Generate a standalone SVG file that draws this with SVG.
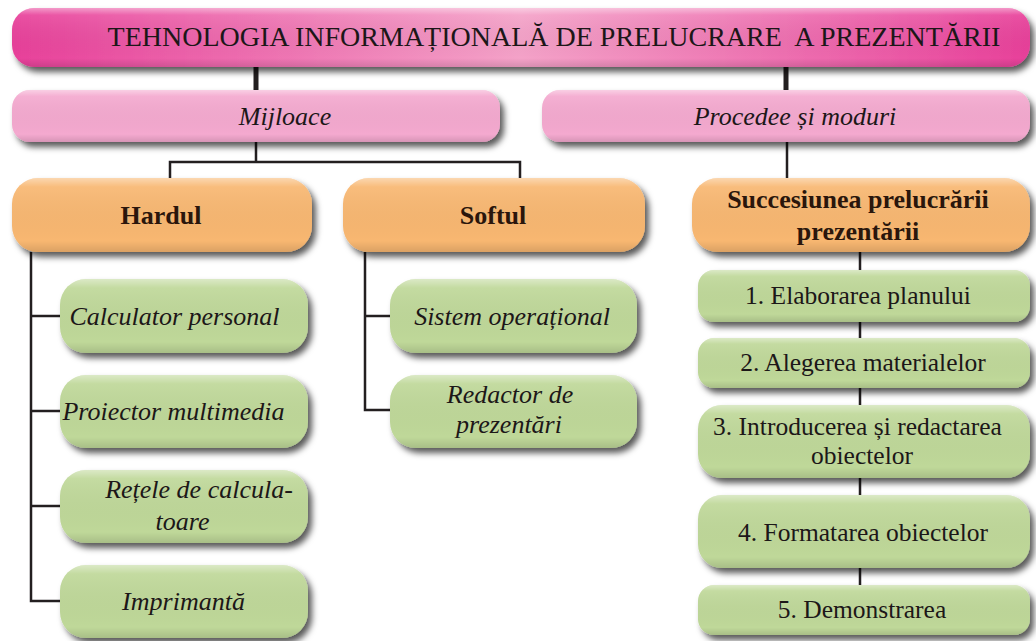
<svg xmlns="http://www.w3.org/2000/svg" width="1036" height="641" viewBox="0 0 1036 641" font-family="'Liberation Serif', 'DejaVu Serif', serif">
<style>
text{fill:#1c1718;text-anchor:middle}
.t{font-size:28px}
.i{font-size:26px;font-style:italic}
.b{font-size:26px;font-weight:bold;fill:#2a160c}
.r{font-size:25.5px}
.ln{stroke:#231f20;stroke-width:2.5;fill:none}
.thick{stroke:#231f20;stroke-width:5;fill:none}
.pink{fill:#f4a9cf}
.orange{fill:#f8b771}
.green{fill:#bfd899}
.bev{fill:url(#bevel)}
</style>
<defs>
<linearGradient id="titleGrad" x1="0" y1="0" x2="1" y2="0">
<stop offset="0" stop-color="#e8409a"/>
<stop offset="0.5" stop-color="#f4a2c8"/>
<stop offset="1" stop-color="#e8409a"/>
</linearGradient>
<linearGradient id="bevel" x1="0" y1="0" x2="0" y2="1">
<stop offset="0" stop-color="#fff" stop-opacity="0.45"/>
<stop offset="0.12" stop-color="#fff" stop-opacity="0.08"/>
<stop offset="0.85" stop-color="#000" stop-opacity="0"/>
<stop offset="1" stop-color="#000" stop-opacity="0.12"/>
</linearGradient>
<filter id="sh" x="-10%" y="-20%" width="125%" height="160%">
<feDropShadow dx="4" dy="5" stdDeviation="3" flood-color="#000" flood-opacity="0.65"/>
</filter>
</defs>
<rect width="1036" height="641" fill="#fff"/>

<g id="connectors">
<line class="thick" x1="256" y1="66" x2="256" y2="91"/>
<line class="thick" x1="786" y1="66" x2="786" y2="91"/>
<polyline class="ln" points="256,142 256,162"/>
<polyline class="ln" points="170,178 170,162 520,162 520,178"/>
<line class="ln" x1="787" y1="142" x2="787" y2="178"/>
<polyline class="ln" points="31,252 31,601 60,601"/>
<line class="ln" x1="31" y1="316" x2="60" y2="316"/>
<line class="ln" x1="31" y1="411" x2="60" y2="411"/>
<line class="ln" x1="31" y1="506" x2="60" y2="506"/>
<polyline class="ln" points="365,252 365,410 390,410"/>
<line class="ln" x1="365" y1="316" x2="390" y2="316"/>
<line class="ln" x1="860" y1="252" x2="860" y2="585"/>
</g>

<g id="title">
<rect x="12" y="8" width="1018" height="59" rx="22" fill="url(#titleGrad)" filter="url(#sh)"/>
<rect x="12" y="8" width="1018" height="59" rx="22" class="bev"/>
<text class="t" x="554" y="46" xml:space="preserve">TEHNOLOGIA INFORMAȚIONALĂ DE PRELUCRARE  A PREZENTĂRII</text>
</g>

<g id="mijloace">
<rect x="12" y="90" width="488" height="52" rx="18" class="pink" filter="url(#sh)"/>
<rect x="12" y="90" width="488" height="52" rx="18" class="bev"/>
<text class="i" x="285" y="125">Mijloace</text>
</g>

<g id="procedee">
<rect x="542" y="90" width="488" height="52" rx="18" class="pink" filter="url(#sh)"/>
<rect x="542" y="90" width="488" height="52" rx="18" class="bev"/>
<text class="i" x="795" y="125">Procedee și moduri</text>
</g>

<g id="hardul">
<rect x="12" y="178" width="300" height="74" rx="26" class="orange" filter="url(#sh)"/>
<rect x="12" y="178" width="300" height="74" rx="26" class="bev"/>
<text class="b" x="161" y="224">Hardul</text>
</g>

<g id="softul">
<rect x="343" y="178" width="302" height="74" rx="26" class="orange" filter="url(#sh)"/>
<rect x="343" y="178" width="302" height="74" rx="26" class="bev"/>
<text class="b" x="493" y="224">Softul</text>
</g>

<g id="succesiunea">
<rect x="692" y="178" width="338" height="74" rx="26" class="orange" filter="url(#sh)"/>
<rect x="692" y="178" width="338" height="74" rx="26" class="bev"/>
<text class="b" x="858" y="208">Succesiunea prelucrării</text>
<text class="b" x="858" y="240">prezentării</text>
</g>

<g id="calculator">
<rect x="60" y="279" width="248" height="74" rx="26" class="green" filter="url(#sh)"/>
<rect x="60" y="279" width="248" height="74" rx="26" class="bev"/>
<text class="i" x="174.5" y="325">Calculator personal</text>
</g>

<g id="proiector">
<rect x="60" y="375" width="248" height="73" rx="26" class="green" filter="url(#sh)"/>
<rect x="60" y="375" width="248" height="73" rx="26" class="bev"/>
<text class="i" x="173.5" y="420">Proiector multimedia</text>
</g>

<g id="retele">
<rect x="60" y="470" width="248" height="73" rx="26" class="green" filter="url(#sh)"/>
<rect x="60" y="470" width="248" height="73" rx="26" class="bev"/>
<text class="i" x="199" y="498">Rețele de calcula-</text>
<text class="i" x="182.5" y="530">toare</text>
</g>

<g id="imprimanta">
<rect x="60" y="565" width="248" height="73" rx="26" class="green" filter="url(#sh)"/>
<rect x="60" y="565" width="248" height="73" rx="26" class="bev"/>
<text class="i" x="183.5" y="610">Imprimantă</text>
</g>

<g id="sistem">
<rect x="390" y="279" width="247" height="74" rx="26" class="green" filter="url(#sh)"/>
<rect x="390" y="279" width="247" height="74" rx="26" class="bev"/>
<text class="i" x="512" y="325">Sistem operațional</text>
</g>

<g id="redactor">
<rect x="390" y="375" width="247" height="73" rx="26" class="green" filter="url(#sh)"/>
<rect x="390" y="375" width="247" height="73" rx="26" class="bev"/>
<text class="i" x="510" y="403">Redactor de</text>
<text class="i" x="509" y="433">prezentări</text>
</g>

<g id="pas1">
<rect x="698" y="270" width="332" height="52" rx="16" class="green" filter="url(#sh)"/>
<rect x="698" y="270" width="332" height="52" rx="16" class="bev"/>
<text class="r" x="858" y="304">1. Elaborarea planului</text>
</g>

<g id="pas2">
<rect x="698" y="338" width="332" height="50" rx="16" class="green" filter="url(#sh)"/>
<rect x="698" y="338" width="332" height="50" rx="16" class="bev"/>
<text class="r" x="863" y="371">2. Alegerea materialelor</text>
</g>

<g id="pas3">
<rect x="698" y="405" width="332" height="73" rx="24" class="green" filter="url(#sh)"/>
<rect x="698" y="405" width="332" height="73" rx="24" class="bev"/>
<text class="r" x="857.5" y="435">3. Introducerea și redactarea</text>
<text class="r" x="862" y="464">obiectelor</text>
</g>

<g id="pas4">
<rect x="698" y="495" width="332" height="73" rx="24" class="green" filter="url(#sh)"/>
<rect x="698" y="495" width="332" height="73" rx="24" class="bev"/>
<text class="r" x="863" y="541">4. Formatarea obiectelor</text>
</g>

<g id="pas5">
<rect x="698" y="585" width="332" height="50" rx="16" class="green" filter="url(#sh)"/>
<rect x="698" y="585" width="332" height="50" rx="16" class="bev"/>
<text class="r" x="862" y="618">5. Demonstrarea</text>
</g>
</svg>
